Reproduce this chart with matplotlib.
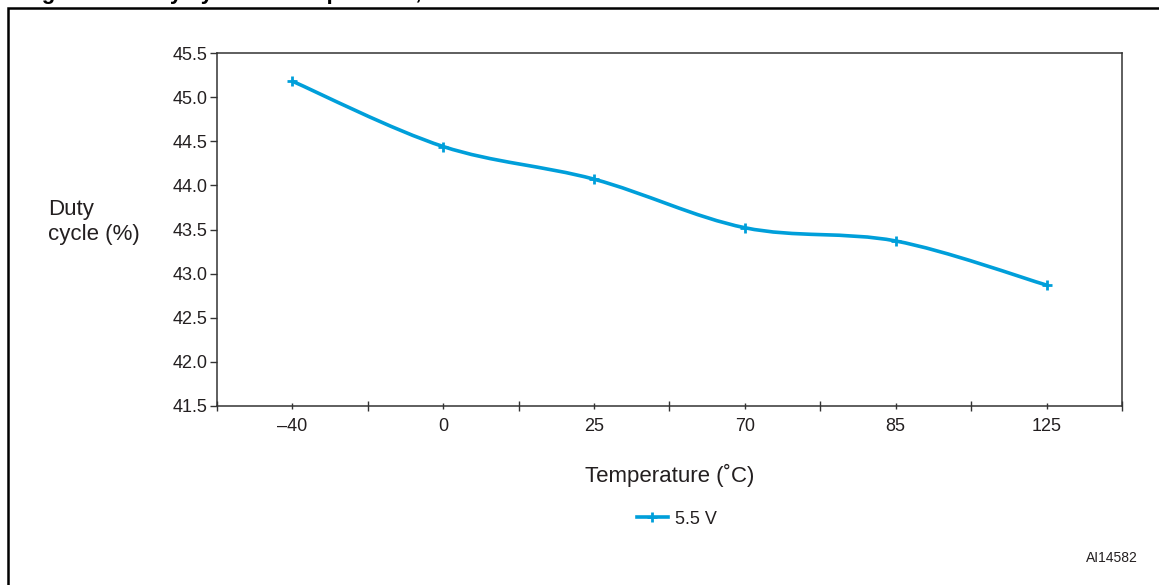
import numpy as np
import matplotlib.pyplot as plt
from matplotlib.path import Path
from matplotlib.patches import PathPatch, Rectangle
from matplotlib.lines import Line2D

plt.rcParams['font.family'] = ['Liberation Sans', 'DejaVu Sans']

# data
temps = ['\u201340', '0', '25', '70', '85', '125']
duty = [45.18, 44.44, 44.07, 43.52, 43.37, 42.87]
series_name = '5.5 V'
y_ticks = [41.5, 42.0, 42.5, 43.0, 43.5, 44.0, 44.5, 45.0, 45.5]

blue = '#009FDA'
ink = '#231F20'
W, H = 1159, 585

fig = plt.figure(figsize=(W / 100, H / 100), dpi=100)
ax = fig.add_axes([217 / W, 1 - 406 / H, 905 / W, 353 / H])

# smoothed line (Catmull-Rom as cubic Bezier segments, like a spreadsheet "smooth line")
x = np.arange(len(temps))
pts = np.column_stack([x, duty]).astype(float)
n = len(pts)
verts = [pts[0]]
codes = [Path.MOVETO]
for i in range(n - 1):
    p0 = pts[max(i - 1, 0)]
    p1 = pts[i]
    p2 = pts[i + 1]
    p3 = pts[min(i + 2, n - 1)]
    verts += [p1 + (p2 - p0) / 6, p2 - (p3 - p1) / 6, p2]
    codes += [Path.CURVE4] * 3
ax.add_patch(PathPatch(Path(verts, codes), fill=False, edgecolor=blue, lw=2.6,
                       capstyle='round', joinstyle='round'))
ax.plot(x, duty, ls='none', marker='+', ms=7, mew=2, color=blue)

ax.set_xlim(-0.5, len(temps) - 0.5)
ax.set_ylim(41.5, 45.5)
ax.set_xticks(x, temps)
ax.set_xticks(np.arange(-0.5, len(temps)), minor=True)
ax.tick_params(axis='x', which='major', direction='inout', length=5, width=1,
               pad=6, labelsize=13, labelcolor=ink, color='#333333')
ax.tick_params(axis='x', which='minor', direction='inout', length=7.5, width=1,
               color='#333333')
ax.set_yticks(y_ticks, [f'{v:.1f}' for v in y_ticks])
ax.tick_params(axis='y', direction='out', length=5, width=1, pad=1.5,
               labelsize=13, labelcolor=ink, color='#333333')
for s in ax.spines.values():
    s.set_linewidth(1.1)
    s.set_color('#333333')

fig.text(670 / W, 1 - 475 / H, 'Temperature (\u02daC)', ha='center', va='center',
         fontsize=16, color=ink)
fig.text(48 / W, 1 - 222 / H, 'Duty\ncycle (%)', ha='left', va='center',
         fontsize=16, color=ink, linespacing=1.2)
fig.text(1138 / W, 1 - 558 / H, 'AI14582', ha='right', va='center',
         fontsize=10, color=ink)

handle = Line2D([], [], color=blue, lw=2.6, marker='+', ms=7, mew=2)
fig.legend([handle], [series_name], loc='center',
           bbox_to_anchor=(677 / W, 1 - 519 / H), frameon=False, fontsize=13,
           handlelength=1.75, handletextpad=0.4, numpoints=1, labelcolor=ink,
           borderpad=0, borderaxespad=0)

# outer figure frame and the clipped caption above it
fig.add_artist(Rectangle((8 / W, -0.1), 1.2, 1.1 - 8 / H, transform=fig.transFigure,
                         fill=False, lw=1.8, edgecolor='black'))
fig.text(22 / W, 1 + 0.5 / H, 'Figure 22. Duty cycle vs. temperature, V',
         fontweight='bold', fontsize=16, va='baseline', color='black')

fig.savefig('out.png', dpi=100)
